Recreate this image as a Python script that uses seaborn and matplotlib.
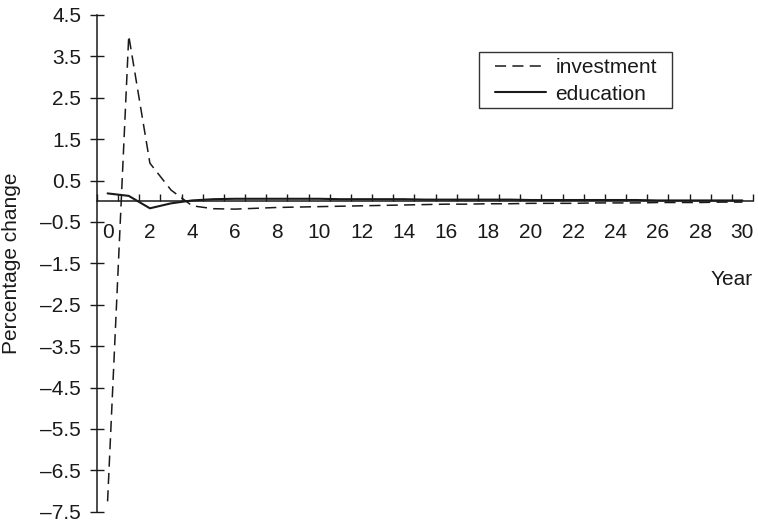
import matplotlib
matplotlib.use("Agg")
import matplotlib.pyplot as plt
from matplotlib.patches import Rectangle
from matplotlib.ticker import FixedLocator, FixedFormatter
import numpy as np
import pandas as pd
import seaborn as sns

# Response paths over 30 years (percentage change)
years = list(range(31))
investment = [-7.25, 4.0, 0.92, 0.27, -0.11, -0.18, -0.19, -0.17, -0.15, -0.14,
              -0.13, -0.12, -0.11, -0.10, -0.09, -0.08, -0.07, -0.07, -0.06, -0.06,
              -0.05, -0.05, -0.05, -0.04, -0.04, -0.04, -0.03, -0.03, -0.03, -0.02,
              -0.02]
education = [0.19, 0.13, -0.17, -0.05, 0.02, 0.05, 0.06, 0.06, 0.06, 0.06,
             0.06, 0.05, 0.05, 0.05, 0.05, 0.04, 0.04, 0.04, 0.04, 0.04,
             0.03, 0.03, 0.03, 0.03, 0.03, 0.03, 0.02, 0.02, 0.02, 0.02,
             0.02]
x_tick_labels = [str(y) for y in range(0, 31, 2)]
y_ticks = [4.5, 3.5, 2.5, 1.5, 0.5, -0.5, -1.5, -2.5, -3.5, -4.5, -5.5, -6.5, -7.5]

df = pd.DataFrame({"Year": years, "investment": investment, "education": education})

sns.set_theme(style="white")
plt.rcParams["font.family"] = ["Liberation Sans", "DejaVu Sans"]
plt.rcParams["lines.scale_dashes"] = False

INK = "#1a1a1a"
FS = 15
DASH = (8, 4.5)

fig = plt.figure(figsize=(7.58, 5.22), dpi=100)
ax = fig.add_axes([97 / 758, 1 - 511.7 / 522, 656 / 758, 496.7 / 522])

sns.lineplot(data=df, x="Year", y="investment", ax=ax, color=INK,
             linewidth=1.1, label="investment")
ax.lines[-1].set_dashes(DASH)
sns.lineplot(data=df, x="Year", y="education", ax=ax, color=INK,
             linewidth=1.5, label="education")

ax.set_xlim(-0.5, 30.5)
ax.set_ylim(-7.5, 4.5)

# Axis frame: left spine plus a horizontal axis crossing at zero
for side in ("top", "right"):
    ax.spines[side].set_visible(False)
ax.spines["bottom"].set_position(("data", 0))
for side in ("left", "bottom"):
    ax.spines[side].set_color(INK)
    ax.spines[side].set_linewidth(1.1)

# Category-style x axis: labels on every other year, ticks between categories
ax.xaxis.set_major_locator(FixedLocator(list(range(0, 31, 2))))
ax.xaxis.set_major_formatter(FixedFormatter(x_tick_labels))
ax.xaxis.set_minor_locator(FixedLocator(np.arange(-0.5, 31, 1.0)))
ax.tick_params(axis="x", which="major", length=0, pad=16, labelsize=FS,
               labelcolor=INK)
ax.tick_params(axis="x", which="minor", direction="in", length=5, width=1.0,
               color=INK, bottom=True)

ax.set_yticks(y_ticks)
ax.set_yticklabels([f"{v:.1f}".replace("-", "\u2013") for v in y_ticks])
ax.tick_params(axis="y", which="major", direction="inout", length=10, width=1.0,
               color=INK, pad=6.5, labelsize=FS, labelcolor=INK, left=True)

ax.set_xlabel("Year", fontsize=FS, color=INK, ha="right", va="center")
ax.xaxis.set_label_coords(1.0, 0.4665)
ax.set_ylabel("Percentage change", fontsize=FS, color=INK, va="center")
ax.yaxis.set_label_coords(-0.1296, 0.5)

# Legend entries, with a plain rectangular box drawn around them
leg = ax.legend(loc="upper left", bbox_to_anchor=(495 / 758, 1 - 58 / 522),
                bbox_transform=fig.transFigure, borderaxespad=0, borderpad=0,
                fontsize=FS, handlelength=2.45, handletextpad=0.45,
                labelspacing=0.36, frameon=False)
for text in leg.get_texts():
    text.set_color(INK)
for line in leg.get_lines():
    line.set_color(INK)
leg.get_lines()[0].set_dashes(DASH)

fig.patches.append(Rectangle((479 / 758, 1 - 108 / 522), 193 / 758, 56 / 522,
                             transform=fig.transFigure, fill=False,
                             edgecolor="#333333", linewidth=1.0))

fig.savefig("out.png", dpi=100)
